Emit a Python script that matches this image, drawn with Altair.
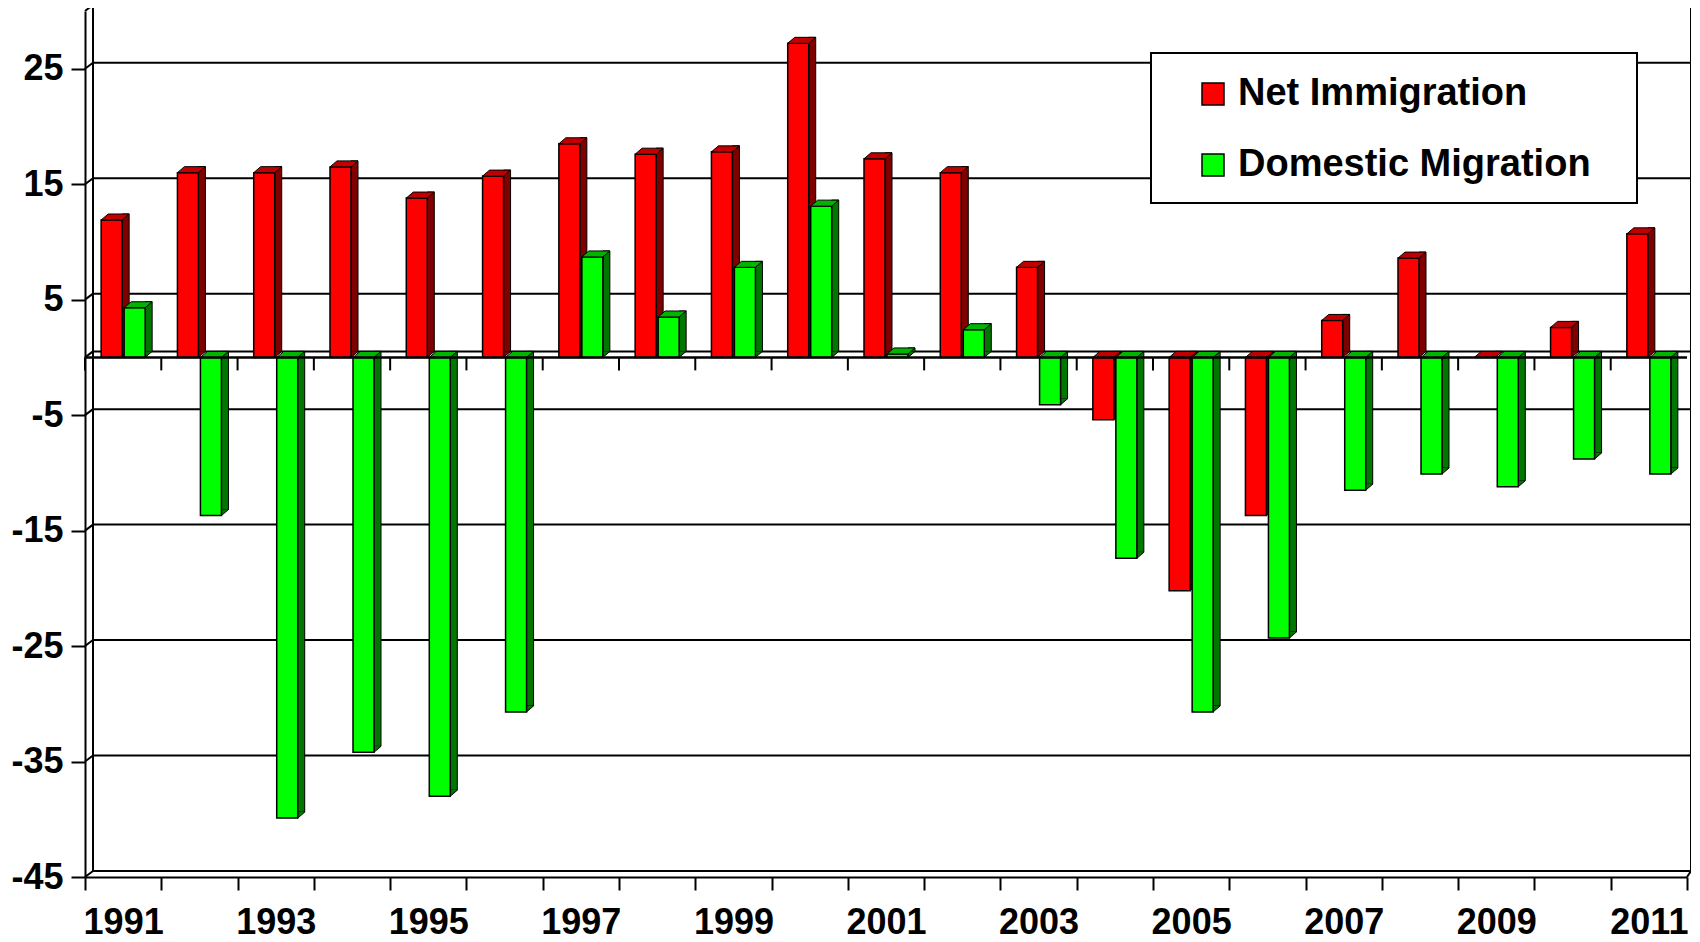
import altair as alt
import pandas as pd

# ---------------- data ----------------
years = list(range(1991, 2012))
net_immigration = [11.9, 16.0, 16.0, 16.5, 13.8, 15.7, 18.5, 17.6, 17.8, 27.2, 17.2,
                   16.0, 7.8, -5.4, -20.2, -13.7, 3.2, 8.6, 0.0, 2.6, 10.7]
domestic_migration = [4.3, -13.7, -39.9, -34.2, -38.0, -30.7, 8.7, 3.5, 7.8, 13.1, 0.3,
                      2.4, -4.1, -17.4, -30.7, -24.3, -11.5, -10.1, -11.2, -8.8, -10.1]
series_names = ["Net Immigration", "Domestic Migration"]
front_colors = ["#FF0000", "#00FF00"]
top_colors = ["#C00000", "#00B400"]
side_colors = ["#800000", "#007800"]
y_ticks = [25, 15, 5, -5, -15, -25, -35, -45]
wall_lines = [30, 25, 15, 5, 0, -5, -15, -25, -35, -45]

rows = []
for s, vals in zip(series_names, [net_immigration, domestic_migration]):
    for yr, v in zip(years, vals):
        rows.append({"year": yr, "series": s, "value": v,
                     "hi": max(v, 0.0), "lo": min(v, 0.0), "z": 0.0})
df = pd.DataFrame(rows)
grid_df = pd.DataFrame({"v": wall_lines})
wall_df = pd.DataFrame({"top": [30], "bottom": [-45]})
zero_df = pd.DataFrame({"v": [0]})
one_df = pd.DataFrame({"a": [1]})

# ---------------- geometry / style ----------------
PAD_L, PAD_T = 77, 3
W, H = 1602, 866
DX, DY = 8, -6          # back wall depth (left side)
RX = 4                  # back wall offset on the right
BX, BY = 7, -6          # bar depth
BW = 21                 # bar front width
FONT = "Liberation Sans"
OX, OY = PAD_L + 8, PAD_T + 8   # plot origin on the page

xscale = alt.Scale(paddingInner=0, paddingOuter=0)
yscale = alt.Scale(domain=[-45, 30], nice=False, zero=False)
xaxis = alt.Axis(title=None, labelAngle=0, tickBand="extent",
                 labelExpr="datum.value % 2 == 1 ? datum.label : ''",
                 labelOverlap=False, labelFlush=False, labelBound=False,
                 labelFont=FONT, labelFontSize=36, labelFontWeight="bold",
                 labelColor="black", labelPadding=15,
                 tickSize=13, tickWidth=2, tickColor="black",
                 domainWidth=2, domainColor="black", grid=False)
yaxis = alt.Axis(title=None, values=y_ticks, labelExpr="datum.value + ''",
                 labelFont=FONT, labelFontSize=36,
                 labelFontWeight="bold", labelColor="black", labelPadding=8,
                 tickSize=14, tickWidth=2, tickColor="black",
                 domainWidth=2, domainColor="black", grid=False)


def X(**kw):
    return alt.X("year:O", scale=xscale, axis=xaxis, **kw)


def Y(field):
    return alt.Y(field, scale=yscale, axis=yaxis)


layers = []

# back wall gridlines (incl. top border, zero floor back edge, bottom)
layers.append(
    alt.Chart(grid_df).mark_rule(color="black", strokeWidth=2, yOffset=DY)
    .encode(y=Y("v:Q"), x=alt.value(DX), x2=alt.value(W + RX))
)
# back wall left & right edges
for xv in [DX, W + RX]:
    layers.append(
        alt.Chart(wall_df).mark_rule(color="black", strokeWidth=2, yOffset=DY, y2Offset=DY)
        .encode(y=Y("top:Q"), y2="bottom:Q", x=alt.value(xv))
    )
# left wall diagonal connectors
layers.append(
    alt.Chart(grid_df).mark_point(shape="M 0 0 L 8 -6", size=4, filled=False,
                                  stroke="black", strokeWidth=2, opacity=1)
    .encode(y=Y("v:Q"), x=alt.value(0))
)
layers.append(
    alt.Chart(wall_df).mark_point(shape="M 0 0 L 4 -6", size=4, filled=False,
                                  stroke="black", strokeWidth=2, opacity=1)
    .encode(y=Y("bottom:Q"), x=alt.value(W))
)
# legend box
layers.append(
    alt.Chart(one_df).mark_rect(fill="white", stroke="black", strokeWidth=2)
    .encode(x=alt.value(1151 - OX), x2=alt.value(1637 - OX),
            y=alt.value(53 - OY), y2=alt.value(203 - OY))
)

color_enc = alt.Color(
    "series:N",
    scale=alt.Scale(domain=series_names, range=front_colors),
    legend=alt.Legend(title=None, orient="none", legendX=1200 - OX - 6, legendY=64,
                      symbolType="square", symbolSize=484, symbolStrokeColor="black",
                      symbolStrokeWidth=1.5, symbolOpacity=1,
                      labelFont=FONT, labelFontSize=38, labelFontWeight="bold",
                      labelColor="black", labelOffset=6, labelLimit=800,
                      rowPadding=33, padding=0),
)

offsets = [-11.5, 11.5]
for i, s in enumerate(series_names):
    o = offsets[i]
    sub = alt.Chart(df).transform_filter(alt.datum.series == s)
    # side face
    layers.append(
        sub.mark_bar(width=BX, xOffset=o + BW / 2 + BX / 2, yOffset=BY, y2Offset=BY,
                     color=side_colors[i], stroke="black", strokeWidth=1)
        .encode(x=X(), y=Y("value:Q"))
    )
    # bottom bevel of side face
    layers.append(
        sub.mark_point(shape="M 7 -6 L 0 0 L 0 -6", size=4, filled=True,
                       fill=side_colors[i], stroke="black", strokeWidth=1, opacity=1,
                       xOffset=o + BW / 2)
        .encode(x=X(), y=Y("lo:Q"))
    )
    # front face
    layers.append(
        sub.mark_bar(width=BW, xOffset=o, stroke="black", strokeWidth=1.5, opacity=1)
        .encode(x=X(), y=Y("value:Q"), color=color_enc)
    )
    # top face
    layers.append(
        sub.mark_point(shape="M -10.5 0 L 10.5 0 L 17.5 -6 L -3.5 -6 Z", size=4,
                       filled=True, fill=top_colors[i], stroke="black", strokeWidth=1,
                       opacity=1, xOffset=o)
        .encode(x=X(), y=Y("hi:Q"))
    )

# front zero line and its ticks
layers.append(
    alt.Chart(zero_df).mark_rule(color="black", strokeWidth=2.5)
    .encode(y=Y("v:Q"), x=alt.value(0), x2=alt.value(W))
)
layers.append(
    alt.Chart(df).transform_filter(alt.datum.series == series_names[0])
    .mark_rule(color="black", strokeWidth=2, y2Offset=13)
    .encode(x=X(bandPosition=0), y=Y("z:Q"), y2="z:Q")
)

chart = alt.layer(*layers).properties(
    width=W, height=H,
    autosize=alt.AutoSizeParams(type="none"),
    padding={"left": PAD_L, "top": PAD_T, "right": 4, "bottom": 57},
    background="white",
).configure_view(stroke="transparent")

chart.save("out.html", embed_options={"renderer": "svg", "actions": False})
